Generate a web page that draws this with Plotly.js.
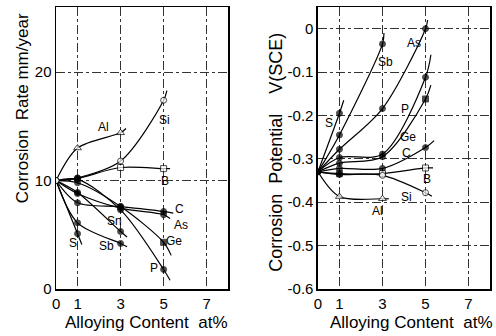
<!DOCTYPE html>
<html>
<head>
<meta charset="utf-8">
<script src="https://cdn.plot.ly/plotly-3.0.1.min.js"></script>
<style>html,body{margin:0;padding:0;background:#fff}#chart{width:496px;height:336px}</style>
</head>
<body>
<div id="chart"></div>
<script>
// ---------- DATA ----------
const xTicks = [0, 1, 3, 5, 7];
const xLevels = [0, 1, 3, 5];

// Left panel: corrosion rate (mm/year)
const rateNames = ['Al', 'Si', 'B', 'C', 'As', 'Ge', 'P', 'Sn', 'Sb', 'S'];
const rateAl = [10.0, 13.0, 14.4];
const rateSi = [10.0, 10.25, 11.8, 17.4];
const rateB  = [10.0, 10.2, 11.2, 11.1];
const rateC  = [10.0, 7.95, 7.6, 7.15];
const rateAs = [10.0, 8.8, 7.45, 6.85];
const rateGe = [10.0, 9.8, 7.6, 4.3];
const rateP  = [10.0, 10.1, 7.3, 1.8];
const rateSn = [10.0, 8.9, 5.3];
const rateSb = [10.0, 6.1, 4.2];
const rateS  = [10.0, 5.1];
// where each drawn curve ends, past its last measured point
const rateEndX = [3.25, 5.15, 5.3, 5.45, 5.3, 5.35, 5.3, 3.3, 3.3, 1.2];
const rateEndY = [14.8, 18.3, 11.1, 7.0, 6.5, 3.1, 0.8, 4.8, 3.9, 4.1];
const rateTickVals = [0, 10, 20];
const rateTickText = ['0', '10', '20'];

// Right panel: corrosion potential V(SCE)
const potNames = ['S', 'Sb', 'As', 'P', 'Ge', 'C', 'B', 'Si', 'Al'];
const potS  = [-0.33, -0.195];
const potSb = [-0.33, -0.245, -0.035];
const potAs = [-0.33, -0.278, -0.184, 0.0];
const potP  = [-0.33, -0.297, -0.289, -0.112];
const potGe = [-0.33, -0.31, -0.295, -0.162];
const potC  = [-0.33, -0.322, -0.322, -0.274];
const potB  = [-0.33, -0.334, -0.334, -0.321];
const potSi = [-0.33, -0.336, -0.338, -0.378];
const potAl = [-0.33, -0.387, -0.392];
const potEndX = [1.2, 3.07, 5.1, 5.25, 5.25, 5.4, 5.35, 5.3, 3.3];
const potEndY = [-0.165, -0.01, 0.02, -0.06, -0.13, -0.258, -0.321, -0.386, -0.392];
const potTickVals = [0, -0.1, -0.2, -0.3, -0.4, -0.5, -0.6];
const potTickText = ['0', '-0.1', '-0.2', '-0.3', '-0.4', '-0.5', '-0.6'];

// label positions [x, y] for each element name
const rateLabelX = [2.2, 5.05, 5.05, 5.75, 5.8, 5.5, 4.55, 2.7, 2.35, 0.78];
const rateLabelY = [14.9, 15.6, 10.0, 7.35, 5.9, 4.4, 1.9, 6.3, 4.0, 4.2];
const potLabelX = [0.5, 3.12, 4.45, 4.05, 4.2, 4.1, 5.05, 4.1, 2.75];
const potLabelY = [-0.217, -0.076, -0.033, -0.184, -0.25, -0.287, -0.346, -0.388, -0.42];

// ---------- STYLE ----------
const FONT = 'Liberation Sans, Arial, sans-serif';
const rateSeries = [rateAl, rateSi, rateB, rateC, rateAs, rateGe, rateP, rateSn, rateSb, rateS];
const potSeries = [potS, potSb, potAs, potP, potGe, potC, potB, potSi, potAl];

function markerStyle(name, idx, panel) {
  if (name === 'Al') return ['triangle-up', 'white'];
  if (name === 'Si') return idx === 1 ? ['circle', 'black'] : ['circle', 'white'];
  if (name === 'B') {
    if (idx === 1) return [panel === 'L' ? 'circle' : 'square', 'black'];
    return ['square', 'white'];
  }
  if (name === 'Ge') return [idx === 3 ? 'square' : 'circle', 'black'];
  return ['circle', 'black'];
}

const traces = [];
function addSeries(names, series, endX, endY, xa, ya, panel) {
  names.forEach((name, i) => {
    const ys = series[i];
    const xs = xLevels.slice(0, ys.length);
    traces.push({
      x: xs.concat([endX[i]]), y: ys.concat([endY[i]]),
      xaxis: xa, yaxis: ya, mode: 'lines',
      line: {color: 'black', width: 1.2, shape: 'spline', smoothing: 0.9},
      hoverinfo: 'skip', showlegend: false
    });
  });
  names.forEach((name, i) => {
    const ys = series[i];
    const xs = xLevels.slice(1, ys.length);
    const styles = xs.map((_, k) => markerStyle(name, k + 1, panel));
    traces.push({
      x: xs, y: ys.slice(1), xaxis: xa, yaxis: ya, mode: 'markers',
      marker: {
        symbol: styles.map(s => s[0]), color: styles.map(s => s[1]),
        size: styles.map(s => s[0] === 'triangle-up' ? 7 : 6),
        line: {color: 'black', width: 1}
      },
      hoverinfo: 'skip', showlegend: false
    });
  });
  traces.push({
    x: [xLevels[0]], y: [series[0][0]], xaxis: xa, yaxis: ya, mode: 'markers',
    marker: {symbol: 'circle', size: 6, color: panel === 'L' ? 'white' : 'black', line: {color: 'black', width: 1}},
    hoverinfo: 'skip', showlegend: false
  });
}
addSeries(rateNames, rateSeries, rateEndX, rateEndY, 'x', 'y', 'L');
addSeries(potNames, potSeries, potEndX, potEndY, 'x2', 'y2', 'R');

const annotations = [];
rateNames.forEach((n, i) => annotations.push({
  x: rateLabelX[i], y: rateLabelY[i], xref: 'x', yref: 'y', text: n, showarrow: false,
  xanchor: 'center', yanchor: 'middle',
  font: {family: FONT, size: 12, color: 'black'}
}));
potNames.forEach((n, i) => annotations.push({
  x: potLabelX[i], y: potLabelY[i], xref: 'x2', yref: 'y2', text: n, showarrow: false,
  xanchor: 'center', yanchor: 'middle',
  font: {family: FONT, size: 12, color: 'black'}
}));
const NB = '\u00a0';
annotations.push(
  {xref: 'paper', yref: 'paper', x: 0.046, y: 0.64, xanchor: 'center', yanchor: 'middle',
   text: 'Corrosion' + NB + NB + 'Rate mm/year', textangle: -90, showarrow: false,
   font: {family: FONT, size: 17, color: 'black'}},
  {xref: 'paper', yref: 'paper', x: 0.556, y: 0.486, xanchor: 'center', yanchor: 'middle',
   text: 'Corrosion' + NB + NB + 'Potential' + NB + NB + NB + NB + 'V(SCE)',
   textangle: -90, showarrow: false, font: {family: FONT, size: 18, color: 'black'}},
  {xref: 'paper', yref: 'paper', x: 0.295, y: -0.12, xanchor: 'center', yanchor: 'middle',
   text: 'Alloying Content' + NB + NB + 'at%', showarrow: false,
   font: {family: FONT, size: 17, color: 'black'}},
  {xref: 'paper', yref: 'paper', x: 0.83, y: -0.12, xanchor: 'center', yanchor: 'middle',
   text: 'Alloying Content' + NB + NB + 'at%', showarrow: false,
   font: {family: FONT, size: 17, color: 'black'}}
);

const axisCommon = {
  showline: true, mirror: true, linecolor: 'black', linewidth: 1.5,
  showgrid: true, gridcolor: '#333', gridwidth: 1, griddash: 'dashdot',
  zeroline: false, ticks: '', tickfont: {family: FONT, size: 15, color: 'black'}
};

const layout = {
  width: 496, height: 336,
  margin: {l: 0, r: 0, t: 7, b: 47},
  paper_bgcolor: 'white', plot_bgcolor: 'white',
  showlegend: false,
  xaxis: Object.assign({}, axisCommon, {domain: [0.113, 0.46], range: [0, 8], tickvals: xTicks, anchor: 'y'}),
  yaxis: Object.assign({}, axisCommon, {domain: [0, 1], range: [0, 26], tickvals: rateTickVals, ticktext: rateTickText, anchor: 'x'}),
  xaxis2: Object.assign({}, axisCommon, {domain: [0.641, 0.988], range: [0, 8], tickvals: xTicks, anchor: 'y2'}),
  yaxis2: Object.assign({}, axisCommon, {domain: [0, 1], range: [-0.6, 0.05], tickvals: potTickVals, ticktext: potTickText, anchor: 'x2'}),
  annotations: annotations
};

Plotly.newPlot('chart', traces, layout, {staticPlot: true, displayModeBar: false});
</script>
</body>
</html>
